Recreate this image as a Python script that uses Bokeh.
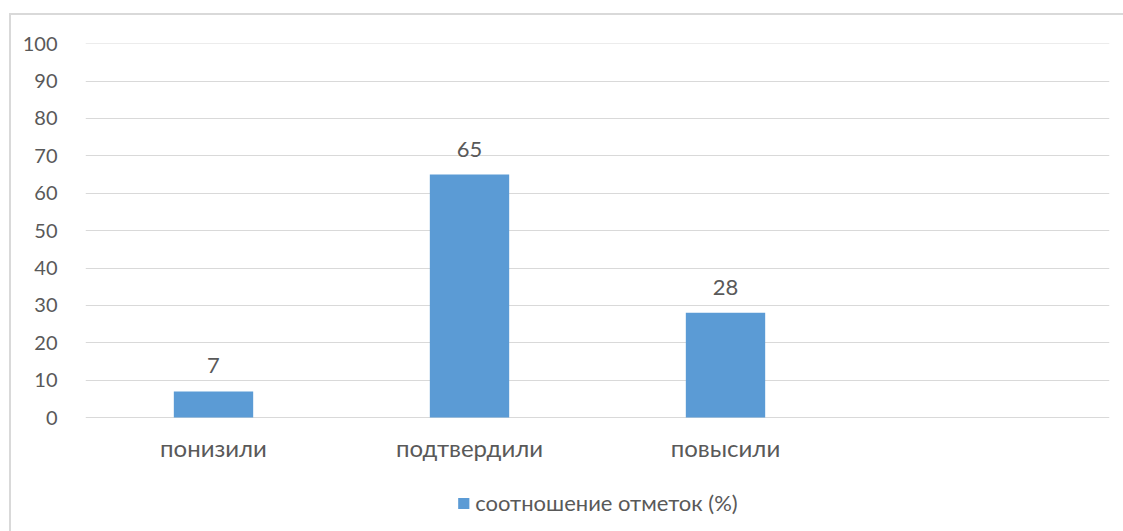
from bokeh.plotting import figure
from bokeh.models import FactorRange, Range1d, ColumnDataSource, LabelSet, Legend, LegendItem
from bokeh.core.properties import value
from bokeh.embed import file_html
from bokeh.resources import INLINE

categories = ["понизили", "подтвердили", "повысили", " "]
values = [7, 65, 28]
series_name = "соотношение отметок (%)"
y_ticks = list(range(0, 101, 10))

FONT = "Lato"
TXT = "#595959"
BAR = "#5B9BD5"
GRID = "#D9D9D9"

src = ColumnDataSource(dict(cat=categories[:3], val=values, lbl=[str(v) for v in values]))

# frame extends below the zero line so the category labels and legend sit inside it
p = figure(
    x_range=FactorRange(*categories, range_padding=0),
    y_range=Range1d(-30.48, 100.05),
    frame_width=1024, frame_height=488,
    x_axis_location=None,
    output_backend="svg", toolbar_location=None,
    min_border_left=74, min_border_right=14, min_border_top=28, min_border_bottom=0,
)
p.margin = (13, 0, 0, 9)
p.styles = {"border-top": "2px solid #D9D9D9", "border-left": "2px solid #D9D9D9"}
p.outline_line_color = None
p.background_fill_color = "white"
p.border_fill_color = "white"

r = p.vbar(x="cat", top="val", width=0.31, source=src, fill_color=BAR, line_color=None)

p.yaxis.ticker = y_ticks
p.yaxis.axis_line_color = None
p.yaxis.major_tick_line_color = None
p.yaxis.minor_tick_line_color = None
p.yaxis.major_label_text_font = FONT
p.yaxis.major_label_text_font_size = "20px"
p.yaxis.major_label_text_color = TXT
p.yaxis.major_label_standoff = 22

p.xgrid.grid_line_color = None
p.ygrid.grid_line_color = GRID
p.ygrid.grid_line_width = 1

labels = LabelSet(x="cat", y="val", text="lbl", source=src, text_align="center",
                  text_baseline="alphabetic", y_offset=18, text_font=value(FONT),
                  text_font_size="22px", text_color=TXT)
p.add_layout(labels)

cat_labels = LabelSet(x="cat", y=0, text="cat", source=src, text_align="center",
                      text_baseline="middle", y_offset=-30, text_font=value(FONT),
                      text_font_size="24px", text_color=TXT)
p.add_layout(cat_labels)

legend = Legend(items=[LegendItem(label=series_name, renderers=[r])],
                orientation="horizontal", location="bottom_center",
                label_text_font=FONT, label_text_font_size="22px", label_text_color=TXT,
                glyph_width=14, glyph_height=14, label_standoff=5,
                border_line_color=None, background_fill_alpha=0, margin=15, padding=0)
p.add_layout(legend)

open("out.html", "w").write(file_html(p, INLINE))
